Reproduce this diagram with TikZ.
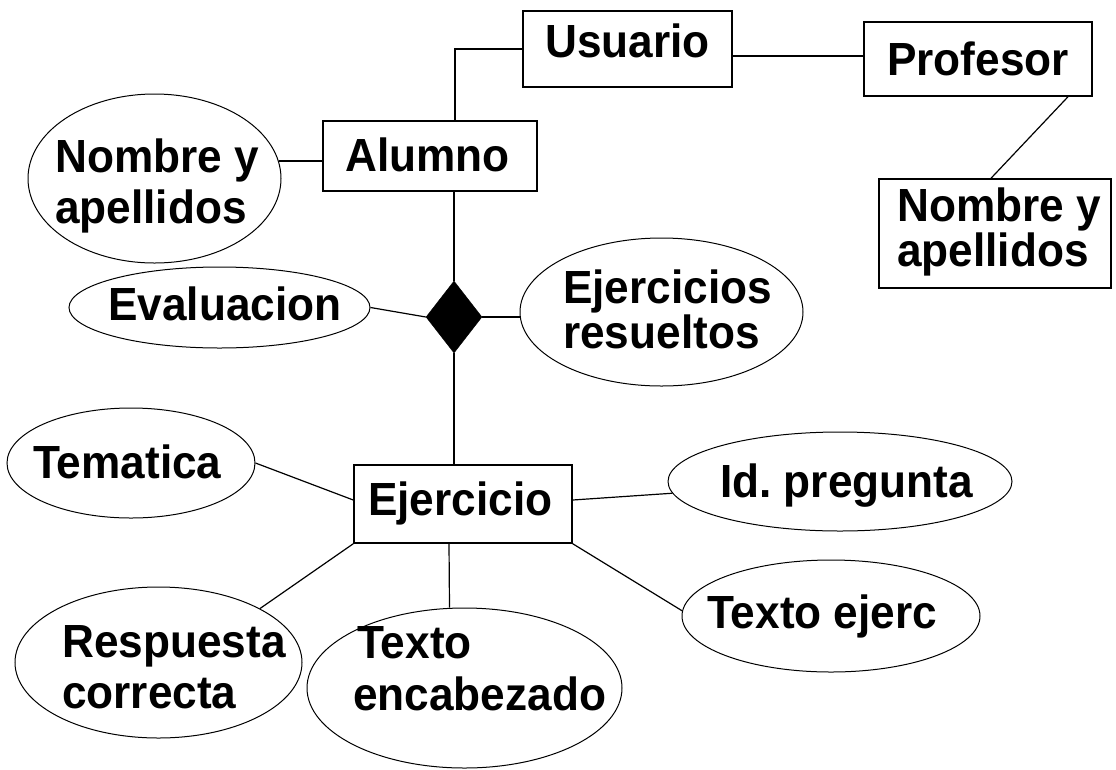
\documentclass[tikz,border=0pt]{standalone}
\usepackage{fontspec}
\setmainfont{Liberation Sans}[FakeStretch=0.95]
\usetikzlibrary{shapes.geometric}
\begin{document}
\begin{tikzpicture}[x=1pt,y=-1pt,
  box/.style={draw, line width=1.5pt, rectangle, inner sep=0pt},
  attr/.style={draw, line width=1pt, ellipse, inner sep=0pt},
  rel/.style={draw, fill=black, diamond, inner sep=0pt},
  conn/.style={line width=1.2pt},
  lbl/.style={anchor=base west, inner sep=0pt, align=left, font=\fontsize{46.5}{#1}\selectfont\bfseries},
  lbl/.default=52]
\useasboundingbox (0,0) rectangle (1116,769);
% shapes
\node[box, minimum width=209pt, minimum height=76pt] (usuario) at (627.5,49) {};
\node[box, minimum width=228pt, minimum height=74pt] (profesor) at (978,59) {};
\node[box, minimum width=232pt, minimum height=109pt] (profnom) at (995,233.5) {};
\node[box, minimum width=214pt, minimum height=70pt] (alumno) at (430,156) {};
\node[attr, minimum width=253pt, minimum height=169pt] (nomal) at (154.5,178.5) {};
\node[attr, minimum width=301pt, minimum height=81pt] (eval) at (219.5,307.5) {};
\node[rel, minimum width=56pt, minimum height=72pt] (rombo) at (454,317) {};
\node[attr, minimum width=283pt, minimum height=148pt] (ejres) at (661.5,312) {};
\node[attr, minimum width=248pt, minimum height=110pt] (tematica) at (131,463) {};
\node[box, minimum width=218pt, minimum height=78pt] (ejercicio) at (463,504) {};
\node[attr, minimum width=344pt, minimum height=99pt] (idpreg) at (840,481.5) {};
\node[attr, minimum width=298pt, minimum height=112pt] (textoej) at (831,616) {};
\node[attr, minimum width=287pt, minimum height=151pt] (respuesta) at (158.5,662.5) {};
\node[attr, minimum width=315pt, minimum height=160pt] (textoenc) at (464.5,688) {};
% texts
\node[lbl] (t-usuario) at (545,57) {Usuario};
\node[lbl] (t-profesor) at (887,75) {Profesor};
\node[lbl=40] (t-profnom) at (897,266) {Nombre y\\apellidos};
\node[lbl] (t-alumno) at (345,171) {Alumno};
\node[lbl=51] (t-nomal) at (55,223) {Nombre y\\apellidos};
\node[lbl] (t-eval) at (108,320) {Evaluacion};
\node[lbl=45] (t-ejres) at (563,348) {Ejercicios\\resueltos};
\node[lbl] (t-tematica) at (33,478) {Tematica};
\node[lbl] (t-ejercicio) at (368,515) {Ejercicio};
\node[lbl] (t-idpreg) at (720,497) {Id.\ pregunta};
\node[lbl] (t-textoej) at (707,628) {Texto ejerc};
\node[lbl=51] (t-resp) at (62,708) {Respuesta\\correcta};
\node[lbl=52] (t-tenc) at (353,710) {\hspace{4pt}Texto\\encabezado};
% connectors
\draw[conn] (usuario.west) -| ([xshift=25pt]alumno.north);
\draw[conn] ([yshift=-7pt]usuario.east) -- ([yshift=3pt]profesor.west);
\draw[conn] ([xshift=90pt]profesor.south) -- ([xshift=-4pt]profnom.north);
\draw[conn] (nomal.8) -- (nomal.8 -| alumno.west);
\draw[conn] (eval.east) -- (rombo.west);
\draw[conn] (rombo.east) -- (rombo.east -| ejres.west);
\draw[conn] (rombo.north |- alumno.south) -- (rombo.north);
\draw[conn] (rombo.south) -- (rombo.south |- ejercicio.north);
\draw[conn] (tematica.east) -- ([yshift=4pt]ejercicio.west);
\draw[conn] (ejercicio.south west) -- (respuesta.28);
\draw[conn] ([xshift=-14pt]ejercicio.south) -- ([xshift=-15pt]textoenc.north);
\draw[conn] ([yshift=4pt]ejercicio.east) -- (idpreg.184);
\draw[conn] (ejercicio.south east) -- (textoej.178);
\end{tikzpicture}
\end{document}
